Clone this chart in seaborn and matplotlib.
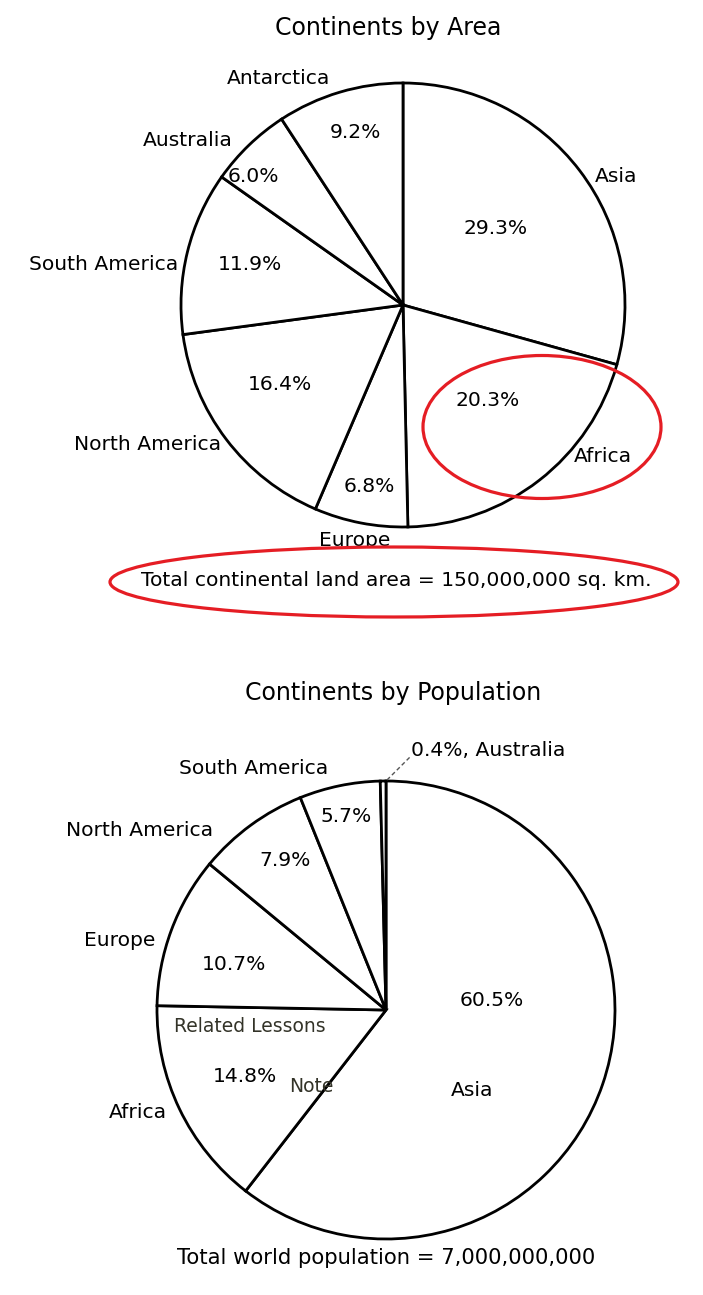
import matplotlib
matplotlib.use("Agg")
import matplotlib.pyplot as plt
from matplotlib.patches import Ellipse, Rectangle
import seaborn as sns

# ---------------- data ----------------
area_continents = ["Asia", "Africa", "Europe", "North America",
                   "South America", "Australia", "Antarctica"]
area_share = [29.3, 20.3, 6.8, 16.4, 11.9, 6.0, 9.2]

pop_continents = ["Asia", "Africa", "Europe", "North America",
                  "South America", "Australia"]
pop_share = [60.5, 14.8, 10.7, 7.9, 5.7, 0.4]

area_title = "Continents by Area"
pop_title = "Continents by Population"
area_total = "Total continental land area = 150,000,000 sq. km."
pop_total = "Total world population = 7,000,000,000"

# ---------------- layout (pixel coords, y from top) ----------------
W, H = 703, 1295
area_center, area_radius = (403, 305), 222
pop_center, pop_radius = (386, 1010), 229

area_pct_xy = [(496, 228), (488, 401), (369, 487), (280, 384),
               (250, 264), (253, 176), (355, 132)]
area_name_xy = [(616, 176), (603, 456), (355, 541), (148, 444),
                (104, 264), (188, 141), (279, 78)]
pop_pct_xy = [(492, 1000), (245, 1077), (234, 965), (285, 861), (346, 816)]
pop_name_xy = [(472, 1090), (138, 1113), (120, 941), (140, 830), (254, 769)]

sns.set_theme(style="white")
plt.rcParams["font.family"] = ["DejaVu Sans"]
plt.rcParams["text.color"] = "black"

fig = plt.figure(figsize=(W / 100, H / 100), dpi=100)
ax = fig.add_axes([0, 0, 1, 1])


def P(x, y):
    return (x, H - y)


FS = 14.6
wp = dict(facecolor="white", edgecolor="black", linewidth=2.0)

# ---------- top pie ----------
w1, t1, a1 = ax.pie(area_share, labels=area_continents, autopct="%.1f%%",
                    startangle=90, counterclock=False,
                    center=P(*area_center), radius=area_radius,
                    wedgeprops=wp, textprops=dict(fontsize=FS, color="black"))
for t, xy in zip(t1, area_name_xy):
    t.set_position(P(*xy)); t.set_ha("center"); t.set_va("center")
for t, xy in zip(a1, area_pct_xy):
    t.set_position(P(*xy)); t.set_ha("center"); t.set_va("center")

# ---------- bottom pie ----------
w2, t2, a2 = ax.pie(pop_share, labels=pop_continents, autopct="%.1f%%",
                    startangle=90, counterclock=False,
                    center=P(*pop_center), radius=pop_radius,
                    wedgeprops=wp, textprops=dict(fontsize=FS, color="black"))
for i, (t, a) in enumerate(zip(t2, a2)):
    if i < len(pop_name_xy):
        t.set_position(P(*pop_name_xy[i])); t.set_ha("center"); t.set_va("center")
        a.set_position(P(*pop_pct_xy[i])); a.set_ha("center"); a.set_va("center")
    else:
        t.set_text(f"{pop_share[i]:.1f}%, {pop_continents[i]}")
        t.set_position(P(411, 750)); t.set_ha("left"); t.set_va("center")
        a.set_visible(False)
        ax.plot([P(387, 780)[0], P(410, 757)[0]], [P(387, 780)[1], P(410, 757)[1]],
                ls=(0, (3, 2)), color="#555555", lw=1.0)

# ---------- titles and totals ----------
ax.text(*P(388, 28), area_title, ha="center", va="center", fontsize=17, color="black")
ax.text(*P(393, 693), pop_title, ha="center", va="center", fontsize=17, color="black")
# white band behind the area total (clips the bottom of the "Europe" label)
ax.add_patch(Rectangle(P(125, 612), 555, 64, facecolor="white", edgecolor="none",
                       zorder=3))
ax.text(*P(396, 581), area_total, ha="center", va="center", fontsize=FS,
        color="black", zorder=4)
ax.text(*P(386, 1258), pop_total, ha="center", va="center", fontsize=15.2,
        color="black")

# overlay texts
ax.text(*P(250, 1027), "Related Lessons", ha="center", va="center",
        fontsize=13.5, color="#333328")
ax.text(*P(311, 1087), "Note", ha="center", va="center",
        fontsize=13.5, color="#333328")

# red ellipses
ax.add_patch(Ellipse(P(542, 427), 238, 143, fill=False, edgecolor="#e51d24",
                     lw=2.3, zorder=5))
ax.add_patch(Ellipse(P(394, 582), 568, 70, fill=False, edgecolor="#e51d24",
                     lw=2.3, zorder=5))

ax.set_xlim(0, W)
ax.set_ylim(0, H)
ax.set_aspect("equal")
ax.axis("off")
fig.savefig("out.png", dpi=100, facecolor="white")
